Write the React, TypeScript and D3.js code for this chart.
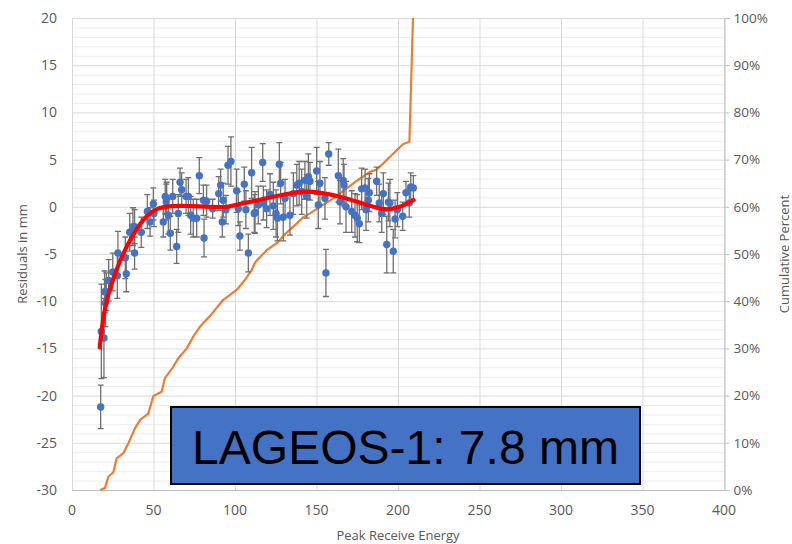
import React, { useEffect, useRef } from "react";
import * as d3 from "d3";

// residual points: [energy, residual mm, error bar +/-]
const points: [number, number, number][] = [
  [17.6, -21.2, 2.3], [18.0, -13.2, 5.0], [19.6, -13.9, 4.2], [20.0, -9.0, 2.2],
  [20.5, -10.2, 2.5], [21.0, -9.0, 2.0], [22.5, -7.8, 2.2], [25.0, -6.9, 2.0],
  [27.8, -7.3, 2.4], [28.2, -4.9, 2.3], [32.7, -5.4, 2.2], [33.3, -7.1, 1.9],
  [35.4, -2.7, 2.0], [37.4, -2.1, 2.0], [38.4, -2.1, 1.8], [38.4, -4.9, 1.7],
  [42.5, -2.7, 1.6], [46.2, -0.5, 1.8], [47.9, -1.6, 1.5], [49.9, 0.3, 1.7],
  [50.3, -0.7, 1.4], [56.0, -1.6, 1.6], [57.2, 1.1, 1.8], [57.8, 0.5, 1.9],
  [58.1, 0.9, 1.7], [59.1, -0.9, 2.0], [60.3, -2.8, 1.8], [61.8, 1.1, 1.8],
  [64.2, -4.2, 1.8], [65.2, -0.7, 2.0], [66.3, 2.6, 1.5], [67.3, 1.8, 1.8],
  [70.0, 1.1, 1.8], [71.4, 1.1, 2.0], [72.8, -0.9, 2.0], [74.4, -1.2, 2.0],
  [76.5, -1.2, 2.0], [78.1, 3.3, 1.9], [80.6, 0.7, 1.6], [81.0, -3.3, 2.0],
  [82.6, 0.6, 1.7], [86.3, -0.2, 1.0], [90.0, 1.4, 1.8], [91.2, 2.3, 1.7],
  [92.2, -1.6, 1.6], [92.8, 0.7, 1.8], [94.5, -0.3, 1.5], [95.7, 4.4, 2.0],
  [97.5, 4.8, 2.6], [101.0, 1.7, 2.3], [102.0, -0.2, 1.8], [103.0, -3.1, 1.5],
  [105.7, 2.4, 1.8], [106.7, -0.3, 2.0], [108.2, -4.9, 2.0], [110.2, 3.6, 2.7],
  [111.8, -0.7, 2.0], [112.3, -0.6, 2.2], [114.3, 0.2, 2.0], [117.0, 4.7, 2.0],
  [117.4, 0.4, 1.8], [119.4, -0.2, 2.0], [121.5, 1.3, 2.2], [123.5, 0.1, 2.5],
  [125.2, -0.7, 2.5], [126.0, -1.2, 2.4], [127.2, 4.5, 2.3], [128.0, 2.5, 2.2],
  [129.6, -1.1, 2.5], [130.7, 0.9, 2.0], [133.7, -0.9, 2.1], [135.8, 1.4, 2.2],
  [137.9, 2.3, 2.2], [139.4, 2.5, 2.3], [140.9, 1.6, 2.4], [142.9, 2.8, 2.0],
  [144.0, 1.1, 2.3], [145.0, 3.2, 2.4], [146.0, 2.7, 2.0], [150.1, 3.8, 2.5],
  [151.1, 0.2, 2.5], [152.1, 2.5, 2.3], [155.2, 0.9, 2.2], [155.8, -7.0, 2.5],
  [157.5, 5.6, 1.2], [163.4, 3.3, 2.8], [164.4, 0.5, 2.3], [166.4, 2.8, 2.3],
  [166.9, 2.3, 2.2], [168.1, 0.0, 2.7], [171.6, -0.5, 2.2], [173.6, -0.9, 2.3],
  [175.0, -1.2, 2.5], [176.3, -1.8, 2.0], [177.7, 1.9, 2.2], [179.8, 2.0, 2.0],
  [180.4, -0.3, 2.2], [181.8, 0.7, 2.3], [182.4, 1.5, 2.0], [186.9, 2.7, 1.5],
  [188.5, 0.4, 2.0], [190.0, -0.7, 2.0], [191.0, 1.4, 2.2], [193.1, -4.0, 3.0],
  [194.1, 0.5, 2.0], [195.0, 0.4, 2.5], [197.1, -4.7, 2.3], [198.2, -1.3, 2.0],
  [199.6, -0.3, 1.8], [202.9, -1.0, 1.5], [204.9, 1.5, 1.2], [206.9, 0.4, 1.5],
  [207.8, 2.1, 1.5], [209.4, 2.0, 1.3],
];

// trend line
const trend: [number, number][] = [
  [17, -14.9], [21, -10.2], [28.2, -6.3], [36.4, -3.3], [45.6, -1.05], [52.8, -0.2],
  [60, 0.05], [74.4, 0.08], [95, 0.0], [103, 0.3], [113, 0.65], [123.5, 1.07],
  [144, 1.6], [164.4, 1.07], [184.9, 0.0], [193, -0.27], [201, 0.0], [209.4, 0.72],
];

// cumulative percent (secondary axis)
const cumulative: [number, number][] = [
  [17.2, 0], [20.2, 0.4], [22.3, 2.8], [25.3, 3.7], [27.4, 6.7], [31.5, 7.8],
  [34.6, 9.9], [38.7, 13.1], [41.7, 14.8], [46.8, 16.2], [49.9, 19.9], [55, 20.8],
  [57, 23.7], [62.1, 26.1], [65.2, 27.9], [70.4, 30], [74.4, 32.5], [78.5, 34.6],
  [85, 37], [92.8, 40.3], [101, 42.4], [106.1, 44.5], [110.2, 46.6], [112.3, 48.2],
  [119.4, 50.8], [125.6, 52.3], [130.7, 54.2], [135.8, 55.8], [141.9, 57.8],
  [146, 58.6], [152.1, 60], [160.3, 61.8], [168.5, 63.9], [176.7, 66], [182.8, 67.4],
  [186.9, 67.9], [191, 69.2], [195.1, 70.6], [199.2, 72], [203.3, 73.3], [207, 73.8],
  [209.2, 100],
];

const xTicks = [0, 50, 100, 150, 200, 250, 300, 350, 400];
const yTicks = [20, 15, 10, 5, 0, -5, -10, -15, -20, -25, -30];
const pctTicks = [0, 10, 20, 30, 40, 50, 60, 70, 80, 90, 100];

const W = 792;
const H = 544;
const font = "'Open Sans', 'Noto Sans', sans-serif";

export default function App() {
  const ref = useRef<SVGSVGElement>(null);

  useEffect(() => {
    const margin = { top: 18, right: 68, bottom: 54, left: 72 };
    const svg = d3.select(ref.current);
    svg.selectAll("*").remove();

    const x = d3.scaleLinear().domain([0, 400]).range([margin.left, W - margin.right]);
    const y = d3.scaleLinear().domain([-30, 20]).range([H - margin.bottom, margin.top]);
    const y2 = d3.scaleLinear().domain([0, 100]).range([H - margin.bottom, margin.top]);

    // grid
    const grid = svg.append("g");
    grid.selectAll("line.minor")
      .data(d3.range(-30, 21).filter(v => v % 5 !== 0))
      .join("line")
      .attr("x1", x(0)).attr("x2", x(400))
      .attr("y1", d => y(d) + 0.5).attr("y2", d => y(d) + 0.5)
      .attr("stroke", "#EDEDED");
    grid.selectAll("line.major")
      .data(yTicks)
      .join("line")
      .attr("x1", x(0)).attr("x2", x(400))
      .attr("y1", d => y(d) + 0.5).attr("y2", d => y(d) + 0.5)
      .attr("stroke", "#D9D9D9");
    grid.append("g").selectAll("line")
      .data(xTicks)
      .join("line")
      .attr("x1", d => x(d) + 0.5).attr("x2", d => x(d) + 0.5)
      .attr("y1", y(20)).attr("y2", y(-30))
      .attr("stroke", "#D9D9D9");

    // axes
    svg.append("line")
      .attr("x1", x(0)).attr("x2", x(400))
      .attr("y1", y(-30) + 0.5).attr("y2", y(-30) + 0.5)
      .attr("stroke", "#BFBFBF");
    const right = svg.append("g")
      .attr("transform", `translate(${x(400) + 0.5},0)`)
      .call(d3.axisRight(y2).tickValues(pctTicks).tickSize(5).tickFormat(d => `${d}%`));
    right.select(".domain").attr("stroke", "#BFBFBF");
    right.selectAll(".tick line").attr("stroke", "#BFBFBF");
    right.selectAll("text")
      .attr("fill", "#595959").attr("font-family", font).attr("font-size", 13.5).attr("x", 9);

    svg.append("g").selectAll("text")
      .data(yTicks)
      .join("text")
      .attr("x", 57).attr("y", d => y(d) + 5)
      .attr("text-anchor", "end")
      .attr("fill", "#595959").attr("font-family", font).attr("font-size", 14)
      .text(d => d);
    svg.append("g").selectAll("text")
      .data(xTicks)
      .join("text")
      .attr("x", d => x(d)).attr("y", 515)
      .attr("text-anchor", "middle")
      .attr("fill", "#595959").attr("font-family", font).attr("font-size", 14)
      .text(d => d);

    svg.append("text")
      .attr("x", (x(0) + x(400)) / 2).attr("y", 540)
      .attr("text-anchor", "middle")
      .attr("fill", "#595959").attr("font-family", font).attr("font-size", 13)
      .text("Peak Receive Energy");
    svg.append("text")
      .attr("transform", `translate(27,${(y(20) + y(-30)) / 2}) rotate(-90)`)
      .attr("text-anchor", "middle")
      .attr("fill", "#595959").attr("font-family", font).attr("font-size", 13)
      .text("Residuals in mm");
    svg.append("text")
      .attr("transform", `translate(789,${(y(20) + y(-30)) / 2}) rotate(-90)`)
      .attr("text-anchor", "middle")
      .attr("fill", "#595959").attr("font-family", font).attr("font-size", 13)
      .text("Cumulative Percent");

    // cumulative line
    svg.append("path")
      .datum(cumulative)
      .attr("fill", "none")
      .attr("stroke", "#ED7D31")
      .attr("stroke-width", 2.2)
      .attr("stroke-linejoin", "round")
      .attr("d", d3.line<[number, number]>().x(d => x(d[0])).y(d => y2(d[1])));

    // error bars
    const bars = svg.append("g").attr("stroke", "#707070").attr("stroke-width", 1.3);
    bars.selectAll("path")
      .data(points)
      .join("path")
      .attr("fill", "none")
      .attr("d", d => {
        const cx = x(d[0]);
        const t = y(d[1] + d[2]);
        const b = y(d[1] - d[2]);
        return `M${cx},${t}V${b}M${cx - 3},${t}H${cx + 3}M${cx - 3},${b}H${cx + 3}`;
      });

    // points
    svg.append("g").selectAll("circle")
      .data(points)
      .join("circle")
      .attr("cx", d => x(d[0]))
      .attr("cy", d => y(d[1]))
      .attr("r", 3.7)
      .attr("fill", "#4472C4");

    // trend
    svg.append("path")
      .datum(trend)
      .attr("fill", "none")
      .attr("stroke", "#FF0000")
      .attr("stroke-width", 4.2)
      .attr("stroke-linecap", "round")
      .attr("d", d3.line<[number, number]>().x(d => x(d[0])).y(d => y(d[1])).curve(d3.curveCatmullRom.alpha(0.5)));

    // label box
    svg.append("rect")
      .attr("x", 171).attr("y", 407)
      .attr("width", 469).attr("height", 77)
      .attr("fill", "#4472C4")
      .attr("stroke", "#000").attr("stroke-width", 2);
    svg.append("text")
      .attr("x", 405.5).attr("y", 464)
      .attr("text-anchor", "middle")
      .attr("font-family", "'Liberation Sans', Arial, sans-serif")
      .attr("font-size", 48)
      .attr("fill", "#000")
      .text("LAGEOS-1: 7.8 mm");
  }, []);

  return (
    <svg
      ref={ref}
      width={W}
      height={H}
      style={{ position: "absolute", left: 0, top: 0, background: "#fff" }}
    />
  );
}
